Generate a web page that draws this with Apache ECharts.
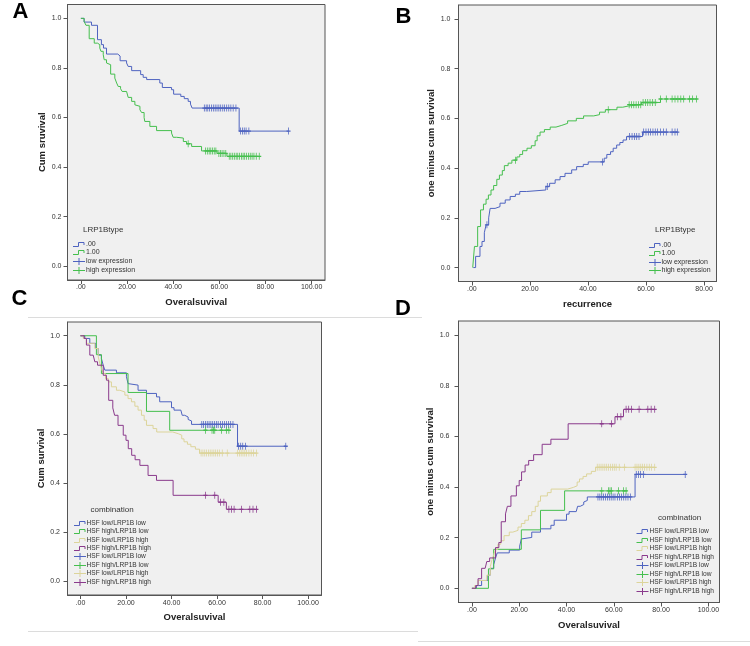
<!DOCTYPE html>
<html><head><meta charset="utf-8">
<script src="https://cdn.jsdelivr.net/npm/echarts@6/dist/echarts.min.js"></script>
<style>html,body{margin:0;padding:0;background:#fff}#c{width:750px;height:646px}</style>
</head><body><div id="c"></div><script>
// ---------- tick labels ----------
const xTicks100 = [0, 20, 40, 60, 80, 100];
const xTicks80 = [0, 20, 40, 60, 80];
const yTicks = [0, 0.2, 0.4, 0.6, 0.8, 1.0];

// ---------- Panel A : overall survival by LRP1B ----------
const tA_low = [0, 1.4, 4.6, 7.2, 8.9, 9.8, 11.1, 16.0, 17.0, 19.8, 20.5, 22.0, 25.9, 27.0, 28.5, 34.2, 35.3, 39.3, 40.2, 43.3, 44.8, 46.5, 47.5, 48.2, 68.6, 90.0];
const sA_low = [1.0, 0.985, 0.972, 0.914, 0.894, 0.880, 0.856, 0.848, 0.829, 0.820, 0.806, 0.789, 0.773, 0.762, 0.753, 0.739, 0.721, 0.712, 0.694, 0.685, 0.676, 0.665, 0.654, 0.638, 0.545, 0.545];
const cA_low = [53.5, 54.3, 55.0, 55.8, 56.6, 57.4, 58.2, 59.0, 59.8, 60.6, 61.5, 62.3, 63.2, 64.1, 65.0, 66.0, 67.2, 69.2, 70.0, 70.8, 71.6, 72.8, 90.0];
const tA_high = [0, 1.4, 2.2, 3.6, 5.8, 7.2, 8.2, 8.7, 9.7, 10.1, 11.1, 11.9, 12.9, 14.7, 15.5, 16.2, 17.2, 17.9, 19.8, 20.5, 22.0, 23.4, 24.1, 25.6, 26.3, 27.4, 27.7, 29.9, 32.8, 39.3, 40.0, 41.5, 44.4, 45.8, 48.0, 52.3, 59.0, 63.3, 77.3];
const sA_high = [1.0, 0.988, 0.972, 0.918, 0.900, 0.894, 0.880, 0.867, 0.853, 0.833, 0.820, 0.813, 0.775, 0.759, 0.739, 0.725, 0.716, 0.705, 0.698, 0.681, 0.665, 0.651, 0.645, 0.631, 0.620, 0.600, 0.584, 0.564, 0.547, 0.537, 0.520, 0.517, 0.503, 0.494, 0.483, 0.465, 0.455, 0.443, 0.443];
const cA_high = [46.5, 54.0, 54.8, 55.6, 56.3, 57.0, 57.8, 58.5, 59.8, 60.5, 61.2, 62.0, 62.8, 64.3, 65.0, 65.8, 66.5, 67.3, 68.0, 68.8, 69.6, 70.3, 71.0, 71.8, 72.6, 73.4, 74.2, 75.0, 76.0, 77.3];

// ---------- Panel B : recurrence (one minus survival) by LRP1B ----------
const tB_low = [0.5, 1.3, 2.8, 3.5, 4.3, 4.9, 5.8, 6.3, 8.0, 9.7, 11.5, 13.2, 15.0, 16.5, 18.9, 25.5, 26.8, 28.7, 30.4, 32.1, 34.4, 36.1, 38.4, 40.1, 45.6, 46.5, 47.8, 48.7, 49.9, 51.0, 52.1, 53.3, 58.8, 70.8];
const sB_low = [0, 0.045, 0.085, 0.105, 0.140, 0.172, 0.200, 0.238, 0.245, 0.259, 0.272, 0.286, 0.295, 0.306, 0.312, 0.326, 0.339, 0.353, 0.366, 0.379, 0.393, 0.406, 0.415, 0.425, 0.440, 0.455, 0.466, 0.480, 0.493, 0.503, 0.513, 0.527, 0.545, 0.545];
const cB_low = [5.2, 26.0, 45.0, 54.3, 55.2, 56.0, 56.8, 57.6, 59.2, 60.0, 60.8, 61.6, 62.4, 63.2, 64.0, 65.0, 66.0, 67.0, 69.0, 70.0, 70.8];
const tB_high = [0.3, 0.9, 2.0, 3.0, 4.0, 4.9, 5.7, 6.6, 7.5, 8.6, 9.5, 10.5, 11.2, 12.5, 13.8, 15.5, 16.5, 17.5, 19.0, 20.5, 21.8, 22.5, 23.5, 25.0, 27.0, 29.0, 31.0, 33.0, 36.0, 38.5, 42.0, 44.0, 46.0, 50.0, 52.0, 54.0, 58.5, 65.0, 77.4];
const sB_high = [0, 0.085, 0.165, 0.232, 0.255, 0.275, 0.292, 0.312, 0.330, 0.355, 0.372, 0.390, 0.410, 0.420, 0.432, 0.445, 0.455, 0.470, 0.480, 0.490, 0.510, 0.530, 0.545, 0.555, 0.565, 0.572, 0.580, 0.590, 0.600, 0.610, 0.615, 0.625, 0.635, 0.645, 0.650, 0.655, 0.664, 0.678, 0.678];
const cB_high = [15.0, 47.0, 54.2, 55.0, 55.8, 56.6, 57.4, 58.2, 59.0, 59.8, 60.6, 61.4, 62.3, 63.2, 65.0, 67.0, 69.0, 70.0, 71.0, 72.0, 73.0, 75.0, 76.0, 77.4];

// ---------- Panel C : overall survival by combination ----------
const tC1 = [0, 1.9, 4.1, 6.7, 7.8, 9.2, 10.0, 10.7, 15.8, 20.2, 20.9, 21.7, 25.3, 29.0, 33.4, 34.8, 40.0, 41.1, 44.1, 44.7, 45.8, 47.3, 48.0, 48.8, 69.0, 90.2];
const sC1 = [1.0, 0.989, 0.969, 0.948, 0.921, 0.907, 0.880, 0.860, 0.849, 0.833, 0.805, 0.799, 0.778, 0.765, 0.751, 0.731, 0.707, 0.697, 0.690, 0.676, 0.669, 0.659, 0.653, 0.639, 0.550, 0.550];
const cC1 = [53.3, 54.1, 54.9, 55.7, 56.5, 57.3, 58.1, 58.9, 59.7, 60.5, 61.5, 62.4, 63.3, 64.2, 65.1, 66.0, 67.0, 69.5, 70.4, 71.3, 72.5, 90.2];
const tC2 = [0, 7.0, 9.2, 20.9, 29.0, 39.2, 65.6];
const sC2 = [1.0, 0.923, 0.846, 0.769, 0.692, 0.615, 0.615];
const cC2 = [54.9, 57.8, 58.4, 59.0, 62.0, 64.1, 65.2];
const tC3 = [0, 1.2, 2.6, 6.3, 7.8, 8.5, 9.2, 10.0, 11.0, 12.2, 13.6, 15.8, 17.3, 19.5, 20.9, 22.4, 23.9, 25.3, 26.8, 28.0, 29.0, 31.9, 33.5, 40.5, 43.0, 44.5, 45.5, 47.0, 48.5, 50.5, 52.3, 77.3];
const sC3 = [1.0, 0.989, 0.969, 0.948, 0.914, 0.887, 0.867, 0.846, 0.826, 0.812, 0.792, 0.778, 0.771, 0.758, 0.744, 0.731, 0.713, 0.697, 0.676, 0.656, 0.635, 0.622, 0.608, 0.601, 0.595, 0.580, 0.568, 0.558, 0.548, 0.538, 0.522, 0.522];
const cC3 = [53.0, 53.8, 54.6, 55.4, 56.2, 57.0, 57.8, 58.6, 59.4, 60.2, 61.0, 62.3, 64.5, 69.0, 69.8, 70.6, 71.4, 72.2, 73.0, 74.0, 75.0, 76.0, 77.3];
const tC4 = [0, 1.6, 2.6, 4.1, 5.6, 6.3, 7.5, 10.0, 11.4, 12.4, 14.2, 15.0, 16.5, 18.8, 20.0, 21.0, 22.5, 24.0, 26.1, 29.7, 33.4, 40.7, 60.5, 64.1, 77.3];
const sC4 = [1.0, 0.989, 0.962, 0.921, 0.914, 0.894, 0.880, 0.839, 0.819, 0.737, 0.706, 0.676, 0.635, 0.595, 0.574, 0.540, 0.513, 0.495, 0.472, 0.431, 0.411, 0.350, 0.322, 0.293, 0.293];
const cC4 = [54.9, 59.0, 61.5, 63.0, 65.2, 66.3, 67.5, 70.7, 74.4, 75.8, 77.3];

// ---------- Panel D : one minus survival by combination (same event times as C) ----------
const sD1 = [0, 0.011, 0.031, 0.052, 0.079, 0.093, 0.120, 0.140, 0.151, 0.167, 0.195, 0.201, 0.222, 0.235, 0.249, 0.269, 0.293, 0.303, 0.310, 0.324, 0.331, 0.341, 0.347, 0.361, 0.450, 0.450];
const sD2 = [0, 0.077, 0.154, 0.231, 0.308, 0.385, 0.385];
const sD3 = [0, 0.011, 0.031, 0.052, 0.086, 0.113, 0.133, 0.154, 0.174, 0.188, 0.208, 0.222, 0.229, 0.242, 0.256, 0.269, 0.287, 0.303, 0.324, 0.344, 0.365, 0.378, 0.392, 0.399, 0.405, 0.420, 0.432, 0.442, 0.452, 0.462, 0.478, 0.478];
const sD4 = [0, 0.011, 0.038, 0.079, 0.086, 0.106, 0.120, 0.161, 0.181, 0.263, 0.294, 0.324, 0.365, 0.405, 0.426, 0.460, 0.487, 0.505, 0.528, 0.569, 0.589, 0.650, 0.678, 0.707, 0.707];

const comboNames = ['HSF low/LRP1B low', 'HSF high/LRP1B low', 'HSF low/LRP1B high', 'HSF high/LRP1B high'];

// ---------- styling ----------
const BLUE = '#4e63c0', GREEN = '#45bf4e', BEIGE = '#dcd49a', PURPLE = '#8a3a8c';
const FONT = 'Liberation Sans, Arial, sans-serif';

function stepValue(times, vals, t) {
  let v = vals[0];
  for (let i = 0; i < times.length; i++) { if (times[i] <= t + 1e-9) v = vals[i]; }
  return v;
}
function kmLine(name, times, vals, color, idx) {
  return { type: 'line', name: name, xAxisIndex: idx, yAxisIndex: idx, step: 'end',
    data: times.map((t, i) => [t, vals[i]]), showSymbol: false, symbol: 'none',
    lineStyle: { color: color, width: 1 }, itemStyle: { color: color }, silent: true, z: 3 };
}
function censor(name, times, vals, cens, color, idx) {
  return { type: 'scatter', name: name, xAxisIndex: idx, yAxisIndex: idx,
    data: cens.map(t => [t, stepValue(times, vals, t)]),
    symbol: 'path://M0,5H4M2,0V10', symbolSize: [4, 7],
    itemStyle: { color: color, borderColor: color, borderWidth: 1, opacity: 1 }, silent: true, z: 4 };
}

const grids = [
  { left: 67.5, top: 4.5, width: 257.5, height: 275.5 },
  { left: 458.5, top: 5, width: 258, height: 276.5 },
  { left: 67.5, top: 322, width: 254, height: 273 },
  { left: 458.5, top: 321, width: 261, height: 281.5 }
];
const xr = [[-5.8, 105.8], [-4.6, 84.3], [-5.7, 105.9], [-5.67, 104.7]];
const xNames = ['Overalsuvival', 'recurrence', 'Overalsuvival', 'Overalsuvival'];
const yNames = ['Cum sruvival', 'one minus cum survival', 'Cum survival', 'one minus cum survival'];
const xGaps = [17.5, 18, 17, 18];
const yGaps = [19, 18, 19, 19];
const xLabelMargins = [4, 4.5, 4.5, 4];
const yLabelMargins = [6, 8, 7.5, 9];

const AX = '#555555', TXT = '#333333';
const xAxes = grids.map((g, i) => ({
  gridIndex: i, type: 'value', min: xr[i][0], max: xr[i][1],
  axisLine: { show: true, onZero: false, lineStyle: { color: AX, width: 1 } },
  axisTick: { show: true, length: 4, customValues: i === 1 ? xTicks80 : xTicks100, lineStyle: { color: AX } },
  axisLabel: { customValues: i === 1 ? xTicks80 : xTicks100, fontSize: 7, color: TXT, fontFamily: FONT, margin: xLabelMargins[i],
    formatter: v => v === 0 ? '.00' : v.toFixed(2) },
  splitLine: { show: false },
  name: xNames[i], nameLocation: 'middle', nameGap: xGaps[i],
  nameTextStyle: { fontSize: 9.5, fontWeight: 'bold', color: '#222', fontFamily: FONT }
}));
const yAxes = grids.map((g, i) => ({
  gridIndex: i, type: 'value', min: -0.056, max: 1.056,
  axisLine: { show: true, onZero: false, lineStyle: { color: AX, width: 1 } },
  axisTick: { show: true, length: 4, customValues: yTicks, lineStyle: { color: AX } },
  axisLabel: { customValues: yTicks, fontSize: 7, color: TXT, fontFamily: FONT, margin: yLabelMargins[i],
    formatter: v => v.toFixed(1) },
  splitLine: { show: false },
  name: yNames[i], nameLocation: 'middle', nameGap: yGaps[i],
  nameTextStyle: { fontSize: 9.5, fontWeight: 'bold', color: '#222', fontFamily: FONT }
}));

const series = [
  kmLine('.00', tA_low, sA_low, BLUE, 0),
  kmLine('1.00', tA_high, sA_high, GREEN, 0),
  censor('low expression', tA_low, sA_low, cA_low, BLUE, 0),
  censor('high expression', tA_high, sA_high, cA_high, GREEN, 0),

  kmLine('.00', tB_low, sB_low, BLUE, 1),
  kmLine('1.00', tB_high, sB_high, GREEN, 1),
  censor('low expression', tB_low, sB_low, cB_low, BLUE, 1),
  censor('high expression', tB_high, sB_high, cB_high, GREEN, 1),

  kmLine(comboNames[0], tC1, sC1, BLUE, 2),
  kmLine(comboNames[1], tC2, sC2, GREEN, 2),
  kmLine(comboNames[2], tC3, sC3, BEIGE, 2),
  kmLine(comboNames[3], tC4, sC4, PURPLE, 2),
  censor(comboNames[0], tC1, sC1, cC1, BLUE, 2),
  censor(comboNames[1], tC2, sC2, cC2, GREEN, 2),
  censor(comboNames[2], tC3, sC3, cC3, BEIGE, 2),
  censor(comboNames[3], tC4, sC4, cC4, PURPLE, 2),

  kmLine(comboNames[0], tC1, sD1, BLUE, 3),
  kmLine(comboNames[1], tC2, sD2, GREEN, 3),
  kmLine(comboNames[2], tC3, sD3, BEIGE, 3),
  kmLine(comboNames[3], tC4, sD4, PURPLE, 3),
  censor(comboNames[0], tC1, sD1, cC1, BLUE, 3),
  censor(comboNames[1], tC2, sD2, cC2, GREEN, 3),
  censor(comboNames[2], tC3, sD3, cC3, BEIGE, 3),
  censor(comboNames[3], tC4, sD4, cC4, PURPLE, 3)
];

// ---------- legends (drawn as graphics, SPSS style) ----------
const graphics = [];
function legendBlock(iconX, textX, titleX, titleY, rowsY, items, fsTitle, fsItem) {
  graphics.push({ type: 'text', x: titleX, y: titleY, silent: true,
    style: { text: items.title, fontSize: fsTitle, fontFamily: FONT, fill: '#333', align: 'left', verticalAlign: 'middle' } });
  items.rows.forEach((r, k) => {
    const y = Math.round(rowsY[k]) + 0.5;
    if (r.kind === 'step') {
      graphics.push({ type: 'polyline', silent: true, shape: { points: [[iconX, y + 2], [iconX + 5.5, y + 2], [iconX + 5.5, y - 2], [iconX + 11, y - 2], [iconX + 11, y + 0.5]] },
        style: { stroke: r.color, lineWidth: 1, fill: null } });
    } else {
      graphics.push({ type: 'line', silent: true, shape: { x1: iconX, y1: y, x2: iconX + 12, y2: y }, style: { stroke: r.color, lineWidth: 1 } });
      graphics.push({ type: 'line', silent: true, shape: { x1: iconX + 6, y1: y - 3.5, x2: iconX + 6, y2: y + 3.5 }, style: { stroke: r.color, lineWidth: 1 } });
    }
    graphics.push({ type: 'text', x: textX, y: y, silent: true,
      style: { text: r.text, fontSize: fsItem, fontFamily: FONT, fill: '#333', align: 'left', verticalAlign: 'middle' } });
  });
}
const lrpLegend = { title: 'LRP1Btype', rows: [
  { kind: 'step', color: BLUE, text: '.00' }, { kind: 'step', color: GREEN, text: '1.00' },
  { kind: 'plus', color: BLUE, text: 'low expression' }, { kind: 'plus', color: GREEN, text: 'high expression' }] };
const comboColors = [BLUE, GREEN, BEIGE, PURPLE];
const comboLegend = { title: 'combination', rows:
  comboNames.map((n, k) => ({ kind: 'step', color: comboColors[k], text: n }))
  .concat(comboNames.map((n, k) => ({ kind: 'plus', color: comboColors[k], text: n }))) };

legendBlock(73, 86, 83, 230, [243.5, 252, 260.5, 269.5], lrpLegend, 8, 7);
legendBlock(649, 661.5, 655, 230, [244.5, 253, 261.5, 270], lrpLegend, 8, 7);
legendBlock(74, 86.5, 90.5, 509.5, [523, 531.4, 539.7, 548.1, 556.4, 564.8, 573.1, 581.5], comboLegend, 8, 6.6);
legendBlock(636.5, 649.5, 658, 518, [531, 539.5, 548, 556.5, 565, 573.5, 582, 590.5], comboLegend, 8, 6.6);

// panel letters
[['A', 20.5, 12], ['B', 403.5, 17], ['C', 19.5, 299], ['D', 403, 309]].forEach(p => {
  graphics.push({ type: 'text', x: p[1], y: p[2], silent: true,
    style: { text: p[0], fontSize: 22, fontWeight: 'bold', fontFamily: FONT, fill: '#000', align: 'center', verticalAlign: 'middle' } });
});
// faint composite separators
const SEP = '#dcdcdc';
graphics.push({ type: 'line', silent: true, shape: { x1: 28, y1: 317.5, x2: 422, y2: 317.5 }, style: { stroke: SEP, lineWidth: 1 } });
graphics.push({ type: 'line', silent: true, shape: { x1: 28, y1: 631.5, x2: 418, y2: 631.5 }, style: { stroke: SEP, lineWidth: 1 } });
graphics.push({ type: 'line', silent: true, shape: { x1: 418, y1: 641.5, x2: 750, y2: 641.5 }, style: { stroke: SEP, lineWidth: 1 } });

const chart = echarts.init(document.getElementById('c'), null, { renderer: 'canvas' });
chart.setOption({
  animation: false,
  backgroundColor: '#ffffff',
  textStyle: { fontFamily: FONT },
  grid: grids.map(g => Object.assign({ show: true, backgroundColor: '#f0f0f0', borderColor: AX, borderWidth: 1, containLabel: false, outerBoundsMode: 'none' }, g)),
  xAxis: xAxes,
  yAxis: yAxes,
  series: series,
  graphic: graphics,
  tooltip: { show: false }
});
</script></body></html>
